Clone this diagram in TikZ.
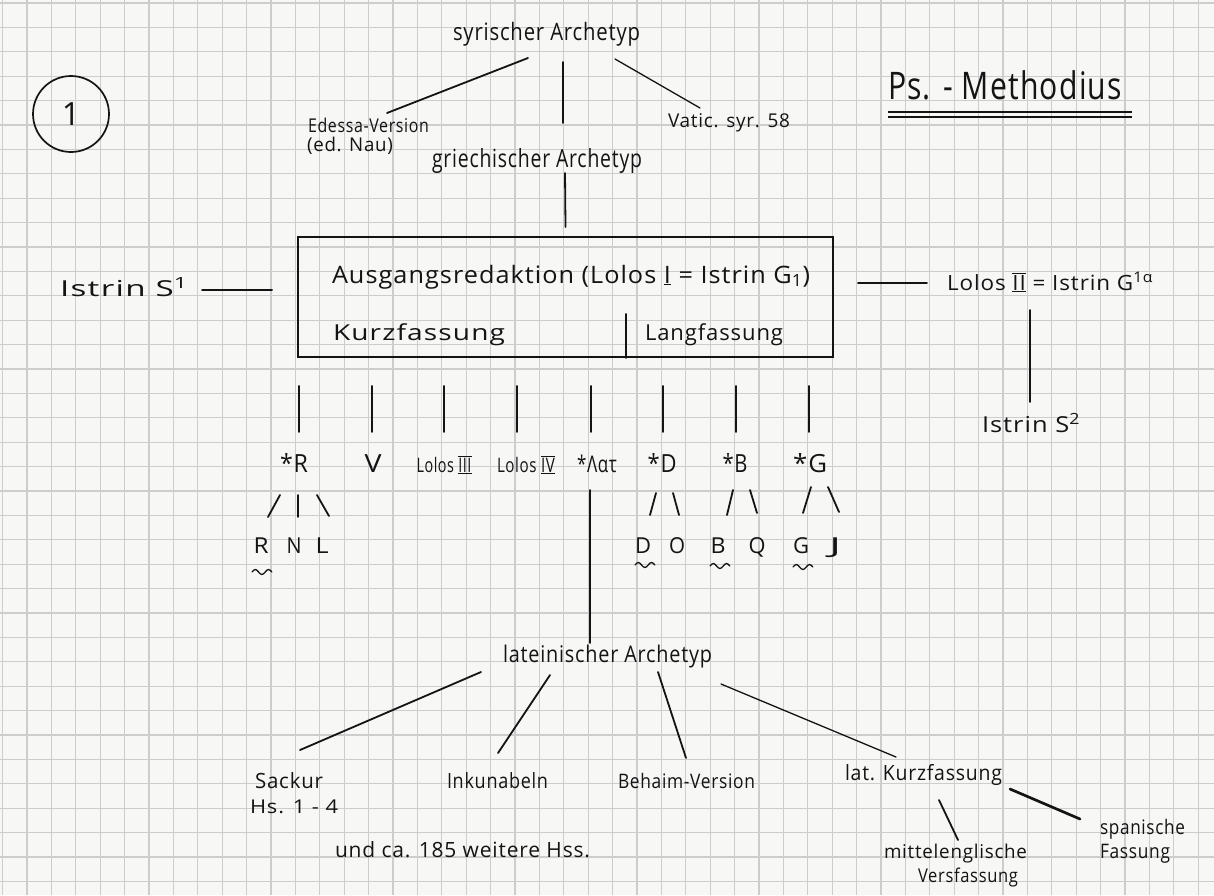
\documentclass[tikz,border=0pt]{standalone}
\usepackage{graphicx}
\usepackage{fontspec}
\setmainfont{Open Sans}
\newfontfamily\hand[LetterSpace=4]{Open Sans}
\usetikzlibrary{calc}
\definecolor{ink}{HTML}{141414}
\definecolor{paper}{HTML}{F7F7F6}
\definecolor{gridc}{HTML}{CDCDCD}
\newcommand\hw[3]{\resizebox{#1pt}{\height}{\fontsize{#2pt}{#2pt}\selectfont\hand #3}}
\newcommand\rnum[1]{\ensuremath{\overline{\underline{\mbox{#1}}}}}
\newcommand\unum[1]{\ensuremath{\underline{\mbox{#1}}}}
\begin{document}
\begin{tikzpicture}[x=1pt,y=-1pt,
  lbl/.style={inner sep=0pt, outer sep=0pt, anchor=base west, text=ink},
  lbc/.style={inner sep=0pt, outer sep=0pt, anchor=base, text=ink},
  conn/.style={draw=ink, line width=1.8pt, line cap=round},
  thinconn/.style={conn, line width=1.3pt},
  thickconn/.style={conn, line width=2.7pt},
  gridline/.style={draw=gridc, line width=1.1pt},
  wave/.style={draw=ink, line width=1.3pt, line cap=round}]
\fill[paper] (0,0) rectangle (1214,895);
\useasboundingbox (0,0) rectangle (1214,895);
% graph paper
\foreach \k in {0,...,49} \draw[gridline] ({2.6+24.4*\k},0) -- ({2.6+24.4*\k},895);
\foreach \j in {0,...,36} \draw[gridline] (0,{3+24.4*\j}) -- (1214,{3+24.4*\j});

% title and number
\node[draw=ink, line width=1.7pt, circle, minimum size=76pt, inner sep=0pt, text=ink,
      font=\fontsize{32pt}{32pt}\selectfont] (one) at (71,114) {1};
\node[lbl] (title) at (888,99) {\hw{234}{38}{Ps. - Methodius}};
\draw[ink, line width=1.5pt] ($(title.base west)+(0,13)$) -- ($(title.base west)+(244,13)$);
\draw[ink, line width=1.5pt] ($(title.base west)+(0,18)$) -- ($(title.base west)+(244,18)$);

% top part
\node[lbl] (syr) at (453,40) {\hw{187}{24}{syrischer Archetyp}};
\node[lbl] (ede1) at (308,132) {\hw{121}{19}{Edessa-Version}};
\node[lbl] (ede2) at (307,151) {\hw{86}{19}{(ed. Nau)}};
\node[lbl] (vat) at (668,127) {\hw{122}{19}{Vatic. syr. 58}};
\node[lbl] (gri) at (432,167) {\hw{210}{25}{griechischer Archetyp}};

\draw[conn] ($(syr.base west)+(75,18)$) -- ($(ede1.base west)+(79,-19)$);
\draw[conn] ($(syr.base west)+(110,22)$) -- ($(gri.base west)+(131,-44)$);
\draw[thinconn] ($(syr.base west)+(162,19)$) -- ($(vat.base west)+(32,-19)$);

% box
\node[draw=ink, line width=1.9pt, minimum width=535pt, minimum height=120pt, inner sep=0pt] (box) at (565.5,297) {};
\node[lbl] (ausg) at (332,283) {\hw{478}{24}{Ausgangsredaktion (Lolos \unum{I} = Istrin G\textsubscript{1})}};
\node[lbl] (kurz) at (333,340) {\hw{172}{22}{Kurzfassung}};
\node[lbl] (lang) at (645,340) {\hw{138}{22}{Langfassung}};
\draw[conn] ($(box.south west)+(329,-44)$) -- ($(box.south west)+(329,0)$);

\draw[conn] ($(gri.base west)+(133,6)$) -- ($(box.north)+(0,-9)$);

\node[lbl] (is1) at (60,296) {\hw{128}{22}{Istrin  S\textsuperscript{1}}};
\node[lbl] (lol2) at (947,290) {\hw{206}{21}{Lolos \rnum{II} = Istrin G\textsuperscript{1α}}};
\node[lbl] (is2) at (982,432) {\hw{98}{22}{Istrin S\textsuperscript{2}}};
\draw[conn] ($(is1.base west)+(142,-6)$) -- ($(box.west)+(-25,-7)$);
\draw[conn] ($(box.east)+(24,-14)$) -- ($(lol2.base west)+(-20,-7)$);
\draw[conn] ($(lol2.base west)+(83,20)$) -- ($(is2.base west)+(48,-30)$);

% second row
\node[lbc] (sR) at (294,472) {\hw{28}{25}{*R}};
\node[lbc] (sV) at (373,472) {\hw{17}{25}{V}};
\node[lbc] (l3) at (444,472) {\hw{55}{20}{Lolos \rnum{III}}};
\node[lbc] (l4) at (526,472) {\hw{58}{20}{Lolos \rnum{IV}}};
\node[lbc] (sLat) at (597,472) {\hw{40}{23}{*Λατ}};
\node[lbc] (sD) at (662,472) {\hw{29}{25}{*D}};
\node[lbc] (sB) at (735,472) {\hw{25}{25}{*B}};
\node[lbc] (sG) at (810,472) {\hw{34}{25}{*G}};

\draw[conn] ($(box.south)+(-266.5,28)$) -- ($(sR.base)+(5,-40)$);
\draw[conn] ($(box.south)+(-193.5,28)$) -- ($(sV.base)+(-1,-40)$);
\draw[conn] ($(box.south)+(-121.5,28)$) -- ($(l3.base)+(0,-40)$);
\draw[conn] ($(box.south)+(-48.5,28)$) -- ($(l4.base)+(-9,-40)$);
\draw[conn] ($(box.south)+(25.5,28)$) -- ($(sLat.base)+(-6,-40)$);
\draw[conn] ($(box.south)+(97.5,28)$) -- ($(sD.base)+(1,-40)$);
\draw[conn] ($(box.south)+(170.5,28)$) -- ($(sB.base)+(1,-40)$);
\draw[conn] ($(box.south)+(243.5,28)$) -- ($(sG.base)+(-1,-40)$);

% leaves
\node[lbc] (lR) at (261,553) {\hw{15}{22}{R}};
\node[lbc] (lN) at (294,553) {\hw{15}{22}{N}};
\node[lbc] (lL) at (322,553) {\hw{13}{22}{L}};
\node[lbc] (lD) at (643,553) {\hw{16}{22}{D}};
\node[lbc] (lO) at (677,553) {\hw{16}{22}{O}};
\node[lbc] (lB) at (718,553) {\hw{15}{22}{B}};
\node[lbc] (lQ) at (757,553) {\hw{17}{22}{Q}};
\node[lbc] (lG) at (801,553) {\hw{16}{22}{G}};
\node[lbc] (lJ) at (835,553) {\hw{12}{22}{J}};

\draw[conn] ($(sR.base)+(-14,23)$) -- ($(lR.base)+(7,-36)$);
\draw[conn] ($(sR.base)+(4,23)$) -- ($(lN.base)+(4,-36)$);
\draw[conn] ($(sR.base)+(23,23)$) -- ($(lL.base)+(7,-37)$);
\draw[conn] ($(sD.base)+(-6,21)$) -- ($(lD.base)+(7,-38)$);
\draw[conn] ($(sD.base)+(11,21)$) -- ($(lO.base)+(2,-38)$);
\draw[conn] ($(sB.base)+(-2,18)$) -- ($(lB.base)+(9,-38)$);
\draw[conn] ($(sB.base)+(15,18)$) -- ($(lQ.base)+(0,-40)$);
\draw[conn] ($(sG.base)+(1,15)$) -- ($(lG.base)+(2,-40)$);
\draw[conn] ($(sG.base)+(18,15)$) -- ($(lJ.base)+(4,-41)$);

% wavy marks under main sigla
\draw[wave] ($(lR.base)+(-9,19)$) sin ++(3.3,-2.5) cos ++(3.3,2.5) sin ++(3.3,2.5) cos ++(3.3,-2.5) sin ++(3.3,-2.5) cos ++(3.3,2.5);
\draw[wave] ($(lD.base)+(-8,12)$) sin ++(3.3,-2.5) cos ++(3.3,2.5) sin ++(3.3,2.5) cos ++(3.3,-2.5) sin ++(3.3,-2.5) cos ++(3.3,2.5);
\draw[wave] ($(lB.base)+(-8,13)$) sin ++(3.3,-2.5) cos ++(3.3,2.5) sin ++(3.3,2.5) cos ++(3.3,-2.5) sin ++(3.3,-2.5) cos ++(3.3,2.5);
\draw[wave] ($(lG.base)+(-8,14)$) sin ++(3.3,-2.5) cos ++(3.3,2.5) sin ++(3.3,2.5) cos ++(3.3,-2.5) sin ++(3.3,-2.5) cos ++(3.3,2.5);

% latin part
\node[lbl] (lat) at (503,662) {\hw{209}{23}{lateinischer Archetyp}};
\draw[conn] ($(sLat.base)+(-7,18)$) -- ($(lat.base west)+(87,-19)$);

\node[lbl] (sack1) at (255,788) {\hw{68}{21}{Sackur}};
\node[lbl] (sack2) at (250,813) {\hw{88}{19}{Hs. 1 - 4}};
\node[lbl] (inku) at (447,788) {\hw{101}{21}{Inkunabeln}};
\node[lbl] (beh) at (618,788) {\hw{137}{20}{Behaim-Version}};
\node[lbl] (latk) at (845,780) {\hw{157}{21}{lat. Kurzfassung}};
\node[lbl] (span1) at (1100,834) {\hw{85}{20}{spanische}};
\node[lbl] (span2) at (1100,858) {\hw{70}{20}{Fassung}};
\node[lbl] (mit1) at (884,858) {\hw{143}{19}{mittelenglische}};
\node[lbl] (mit2) at (918,882) {\hw{100}{19}{Versfassung}};
\node[lbl] (und) at (335,857) {\hw{255}{21}{und ca. 185 weitere Hss.}};

\draw[conn] ($(lat.base west)+(-22,10)$) -- ($(sack1.base west)+(45,-38)$);
\draw[conn] ($(lat.base west)+(47,13)$) -- ($(inku.base west)+(51,-35)$);
\draw[conn] ($(lat.base west)+(155,10)$) -- ($(beh.base west)+(68,-30)$);
\draw[thinconn] ($(lat.base west)+(218,22)$) -- ($(latk.base west)+(51,-23)$);
\draw[thickconn] ($(latk.base west)+(165,9)$) -- ($(span1.base west)+(-20,-15)$);
\draw[conn] ($(latk.base west)+(94,20)$) -- ($(mit1.base west)+(74,-18)$);
\end{tikzpicture}
\end{document}
